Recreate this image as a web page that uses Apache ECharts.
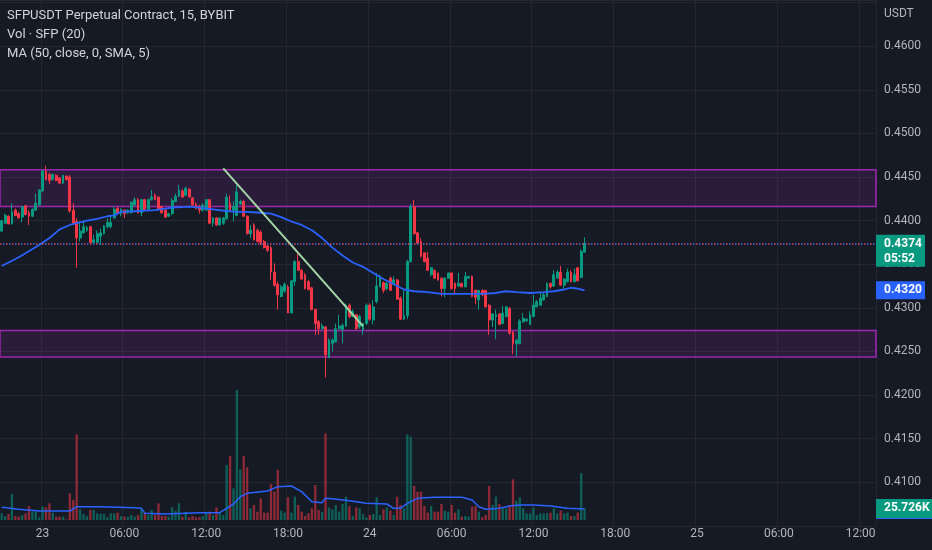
<!DOCTYPE html>
<html><head><meta charset="utf-8">
<script src="https://cdn.jsdelivr.net/npm/echarts@6/dist/echarts.min.js"></script>
<style>html,body{margin:0;padding:0;background:#161a25;}#c{width:932px;height:550px;}</style>
</head><body><div id="c"></div>
<script>
// ---- time slots (15-minute bars) ----
const startDay = 22, startMinute = 21 * 60, barMinutes = 15, slotCount = 257;
const tickLabels = ['23', '06:00', '12:00', '18:00', '24', '06:00', '12:00', '18:00', '25', '06:00', '12:00'];

// ---- OHLC (USDT) ----
const open = [0.4388,0.4397,0.4405,0.4396,0.4412,0.4408,0.4404,0.4417,0.4409,0.4405,0.4412,0.4418,0.4434,0.4457,0.4453,0.4447,0.4452,0.4449,0.4443,0.4451,
0.4450,0.4412,0.4399,0.4380,0.4386,0.4389,0.4393,0.4375,0.4375,0.4382,0.4385,0.4393,0.4393,0.4403,0.4414,0.4408,0.4412,0.4409,0.4409,0.4418,
0.4424,0.4409,0.4424,0.4413,0.4424,0.4429,0.4427,0.4416,0.4412,0.4405,0.4408,0.4422,0.4428,0.4434,0.4429,0.4436,0.4426,0.4419,0.4416,0.4412,
0.4412,0.4424,0.4397,0.4403,0.4395,0.4397,0.4402,0.4420,0.4412,0.4406,0.4419,0.4422,0.4405,0.4385,0.4395,0.4389,0.4387,0.4376,0.4371,0.4369,
0.4341,0.4327,0.4313,0.4319,0.4324,0.4294,0.4330,0.4353,0.4343,0.4338,0.4330,0.4323,0.4298,0.4284,0.4276,0.4278,0.4243,0.4259,0.4261,0.4276,
0.4275,0.4279,0.4303,0.4290,0.4292,0.4278,0.4275,0.4282,0.4303,0.4286,0.4307,0.4324,0.4329,0.4322,0.4334,0.4327,0.4332,0.4311,0.4287,0.4291,
0.4353,0.4416,0.4386,0.4376,0.4363,0.4357,0.4338,0.4343,0.4340,0.4334,0.4322,0.4334,0.4340,0.4328,0.4325,0.4328,0.4324,0.4334,0.4336,0.4320,
0.4309,0.4320,0.4320,0.4303,0.4286,0.4290,0.4293,0.4282,0.4290,0.4299,0.4272,0.4259,0.4259,0.4284,0.4285,0.4281,0.4290,0.4301,0.4303,0.4309,
0.4313,0.4328,0.4325,0.4334,0.4341,0.4326,0.4330,0.4341,0.4330,0.4346,0.4335,0.4364];
const close = [0.4400,0.4406,0.4396,0.4410,0.4406,0.4403,0.4416,0.4407,0.4405,0.4413,0.4420,0.4435,0.4457,0.4447,0.4446,0.4453,0.4446,0.4443,0.4452,0.4447,
0.4411,0.4397,0.4380,0.4388,0.4393,0.4392,0.4375,0.4378,0.4385,0.4386,0.4394,0.4398,0.4398,0.4413,0.4409,0.4413,0.4408,0.4412,0.4421,0.4424,
0.4409,0.4424,0.4412,0.4424,0.4427,0.4424,0.4413,0.4409,0.4404,0.4408,0.4423,0.4428,0.4435,0.4427,0.4437,0.4427,0.4418,0.4414,0.4412,0.4418,
0.4424,0.4397,0.4403,0.4395,0.4403,0.4403,0.4427,0.4412,0.4416,0.4433,0.4422,0.4405,0.4385,0.4389,0.4378,0.4376,0.4375,0.4369,0.4366,0.4341,
0.4326,0.4315,0.4324,0.4327,0.4294,0.4331,0.4353,0.4343,0.4333,0.4322,0.4321,0.4298,0.4282,0.4276,0.4279,0.4246,0.4263,0.4263,0.4276,0.4279,
0.4280,0.4303,0.4290,0.4296,0.4276,0.4290,0.4282,0.4303,0.4287,0.4301,0.4325,0.4336,0.4320,0.4328,0.4320,0.4332,0.4310,0.4287,0.4291,0.4353,
0.4416,0.4385,0.4374,0.4359,0.4353,0.4343,0.4346,0.4334,0.4332,0.4322,0.4334,0.4340,0.4322,0.4322,0.4328,0.4324,0.4336,0.4336,0.4313,0.4312,
0.4320,0.4315,0.4301,0.4286,0.4293,0.4292,0.4281,0.4294,0.4301,0.4271,0.4259,0.4263,0.4285,0.4288,0.4287,0.4292,0.4303,0.4307,0.4311,0.4315,
0.4328,0.4324,0.4338,0.4341,0.4326,0.4333,0.4341,0.4330,0.4338,0.4331,0.4365,0.4374];
const low = [0.4387,0.4396,0.4396,0.4396,0.4405,0.4403,0.4398,0.4406,0.4395,0.4404,0.4411,0.4417,0.4433,0.4446,0.4442,0.4446,0.4445,0.4442,0.4442,0.4446,
0.4409,0.4396,0.4346,0.4376,0.4385,0.4387,0.4374,0.4374,0.4374,0.4372,0.4384,0.4391,0.4391,0.4402,0.4408,0.4405,0.4403,0.4408,0.4408,0.4417,
0.4408,0.4405,0.4411,0.4412,0.4423,0.4424,0.4412,0.4408,0.4403,0.4404,0.4406,0.4421,0.4427,0.4426,0.4428,0.4427,0.4417,0.4413,0.4408,0.4410,
0.4411,0.4396,0.4393,0.4394,0.4394,0.4395,0.4401,0.4410,0.4399,0.4405,0.4418,0.4404,0.4384,0.4380,0.4377,0.4375,0.4372,0.4368,0.4364,0.4332,
0.4324,0.4298,0.4312,0.4317,0.4294,0.4294,0.4325,0.4343,0.4332,0.4321,0.4320,0.4297,0.4269,0.4269,0.4275,0.4220,0.4242,0.4250,0.4260,0.4275,
0.4259,0.4278,0.4288,0.4289,0.4275,0.4276,0.4269,0.4280,0.4285,0.4281,0.4305,0.4324,0.4317,0.4320,0.4320,0.4326,0.4309,0.4286,0.4286,0.4287,
0.4352,0.4384,0.4373,0.4358,0.4352,0.4343,0.4336,0.4333,0.4331,0.4313,0.4312,0.4333,0.4321,0.4315,0.4324,0.4324,0.4324,0.4333,0.4312,0.4304,
0.4298,0.4313,0.4301,0.4269,0.4278,0.4264,0.4280,0.4281,0.4289,0.4269,0.4247,0.4244,0.4258,0.4283,0.4284,0.4280,0.4289,0.4301,0.4302,0.4308,
0.4312,0.4322,0.4324,0.4333,0.4325,0.4322,0.4329,0.4329,0.4329,0.4330,0.4334,0.4363];
const high = [0.4401,0.4408,0.4406,0.4420,0.4414,0.4410,0.4417,0.4418,0.4412,0.4414,0.4431,0.4436,0.4458,0.4463,0.4455,0.4454,0.4453,0.4450,0.4452,0.4452,
0.4452,0.4420,0.4403,0.4399,0.4399,0.4394,0.4394,0.4384,0.4389,0.4391,0.4395,0.4403,0.4405,0.4416,0.4416,0.4414,0.4413,0.4413,0.4422,0.4427,
0.4426,0.4425,0.4425,0.4425,0.4435,0.4431,0.4428,0.4417,0.4413,0.4409,0.4426,0.4431,0.4441,0.4436,0.4439,0.4437,0.4427,0.4421,0.4418,0.4420,
0.4424,0.4424,0.4404,0.4404,0.4403,0.4404,0.4431,0.4429,0.4422,0.4441,0.4424,0.4424,0.4406,0.4395,0.4397,0.4391,0.4389,0.4378,0.4372,0.4371,
0.4351,0.4330,0.4326,0.4329,0.4326,0.4332,0.4355,0.4362,0.4345,0.4340,0.4332,0.4324,0.4299,0.4286,0.4282,0.4279,0.4265,0.4265,0.4282,0.4292,
0.4282,0.4305,0.4305,0.4298,0.4293,0.4292,0.4283,0.4305,0.4305,0.4309,0.4340,0.4338,0.4330,0.4330,0.4336,0.4336,0.4333,0.4313,0.4320,0.4355,
0.4419,0.4424,0.4387,0.4380,0.4363,0.4364,0.4347,0.4344,0.4340,0.4335,0.4335,0.4340,0.4340,0.4329,0.4340,0.4329,0.4341,0.4337,0.4337,0.4321,
0.4320,0.4321,0.4320,0.4304,0.4294,0.4298,0.4294,0.4302,0.4302,0.4301,0.4273,0.4264,0.4287,0.4294,0.4288,0.4296,0.4315,0.4309,0.4317,0.4317,
0.4329,0.4329,0.4343,0.4343,0.4348,0.4334,0.4345,0.4343,0.4345,0.4347,0.4367,0.4381];

// ---- volume (thousands of SFP) ----
const volumeK = [14.9,8.9,13.4,58.2,8.9,7.5,11.2,14.9,31.3,18.6,18.6,6.0,29.8,28.3,37.3,16.4,7.5,7.5,7.5,1.5,
59.7,44.7,191.6,23.9,13.4,8.9,22.4,22.4,14.9,13.4,13.4,6.0,14.9,14.9,16.4,8.9,7.5,7.5,11.2,7.5,
11.2,26.1,14.9,11.2,22.4,11.2,37.3,8.9,8.9,7.5,28.3,20.9,37.3,7.5,18.6,6.0,8.9,6.0,6.0,8.9,
18.6,18.6,11.2,28.3,14.9,11.2,123.0,143.2,70.8,290.8,113.3,143.2,117.8,26.1,33.6,18.6,48.5,16.4,16.4,80.5,
63.4,111.9,20.9,16.4,50.7,16.4,52.2,33.6,18.6,8.9,14.9,26.1,78.3,22.4,18.6,193.9,28.3,23.9,33.6,18.6,
35.8,52.2,31.3,8.9,28.3,26.1,13.4,6.0,11.2,13.4,50.7,11.2,23.9,28.3,20.9,11.2,52.2,33.6,26.1,191.6,
186.4,76.1,63.4,63.4,31.3,16.4,31.3,18.6,18.6,35.8,20.9,18.6,33.6,16.4,23.9,7.5,8.9,7.5,29.8,31.3,
18.6,6.0,11.2,76.1,33.6,52.2,35.8,26.1,26.1,33.6,91.0,43.3,50.7,26.1,14.9,14.9,28.3,11.2,14.9,14.9,
14.9,16.4,26.1,14.9,20.9,14.9,16.4,8.9,8.9,16.4,104.4,25.726];

// ---- MA(50) on close ----
const maIdx = [0,5,11,14,17,20,23,25,28,31,33,35,40,45,50,55,58,62,66,69,72,76,79,82,85,88,91,94,97,100,103,106,109,112,115,118,121,125,129,133,137,141,145,148,151,155,159,162,165,167,169,171];
const maVal = [0.4348,0.4358,0.4372,0.4380,0.4390,0.4395,0.4398,0.4400,0.4402,0.4405,0.4406,0.4410,0.4411,0.4412,0.4415,0.4416,0.4415,0.4413,0.4411,0.4410,0.4410,0.4409,0.4408,0.4404,0.4399,0.4395,0.4389,0.4380,0.4369,0.4360,0.4352,0.4347,0.4340,0.4333,0.4327,0.4321,0.4319,0.4318,0.4316,0.4316,0.4316,0.4316,0.4317,0.4319,0.4318,0.4317,0.4318,0.4319,0.4321,0.4323,0.4322,0.4320];

// ---- Volume MA(20) ----
const vmaIdx = [0,5,11,20,22,29,39,41,42,48,58,64,66,68,70,72,78,81,85,88,91,94,95,97,102,107,113,115,117,119,122,127,135,138,140,142,146,149,152,156,161,166,171];
const vmaVal = [28.3,23.9,20.1,20.1,29.8,29.8,27.6,26.1,14.9,13.4,16.4,16.4,26.1,35.8,52.2,59.7,64.9,74.6,76.1,63.4,41.0,38.8,48.5,47.7,43.3,37.3,35.8,26.1,26.1,37.3,48.5,50.7,50.7,44.7,29.8,23.9,26.1,31.3,33.6,33.6,31.3,26.1,24.6];

// ---- drawings ----
const upperZone = [0.44583, 0.44161];
const lowerZone = [0.42740, 0.42435];
const trendIdx = [65, 106];
const trendPrice = [0.4460, 0.4279];
const levelPrice = 0.4374;
const countdown = '05:52';

// ---- build categories ----
const cats = [], tickSet = new Set(), tickText = new Map();
let tk = 0;
for (let i = 0; i < slotCount; i++) {
  const m = startMinute + i * barMinutes;
  const day = startDay + Math.floor(m / 1440);
  const mm = m % 1440;
  const hh = String(Math.floor(mm / 60)).padStart(2, '0');
  const mi = String(mm % 60).padStart(2, '0');
  cats.push(day + ' ' + hh + ':' + mi);
  if (mm % 360 === 0) { tickSet.add(i); tickText.set(i, tickLabels[tk++]); }
}

const upColor = '#089981', downColor = '#f23645', maColor = '#2962ff';
const upVol = 'rgba(8,153,129,0.55)', downVol = 'rgba(242,54,69,0.55)';
const gridColor = '#242733';
const axisText = '#b2b5be';
const FONT = 'Roboto, sans-serif';
const GRID_RIGHT = 56, CHART_W = 932;

const candleData = open.map((o, i) => [o, close[i], low[i], high[i]]);
const volData = volumeK.map((v, i) => ({ value: v, itemStyle: { color: close[i] >= open[i] ? upVol : downVol } }));
const maData = maIdx.map((x, k) => [x, maVal[k]]);
const vmaData = vmaIdx.map((x, k) => [x, vmaVal[k]]);
const trendData = trendIdx.map((x, k) => [x, trendPrice[k]]);
const lastVol = volumeK[volumeK.length - 1];
const lastVma = vmaVal[vmaVal.length - 1];
const lastMa = maVal[maVal.length - 1];

const chart = echarts.init(document.getElementById('c'), null, { renderer: 'canvas' });
chart.setOption({
  backgroundColor: '#161a25',
  animation: false,
  textStyle: { fontFamily: FONT },
  grid: [
    { left: 0, right: GRID_RIGHT, top: 0, bottom: 24.2 },
    { left: 0, right: GRID_RIGHT, top: 330, bottom: 30 }
  ],
  xAxis: [
    { type: 'category', gridIndex: 0, data: cats, boundaryGap: true,
      axisLine: { show: false }, axisTick: { show: false }, axisLabel: { show: false },
      splitLine: { show: true, interval: (i) => tickSet.has(i), lineStyle: { color: gridColor, width: 1 } } },
    { type: 'category', gridIndex: 1, data: cats, boundaryGap: true,
      axisLine: { show: false }, axisTick: { show: false }, splitLine: { show: false },
      axisLabel: { show: true, interval: (i) => tickSet.has(i), formatter: (v, i) => tickText.get(i) || '',
        color: axisText, fontSize: 12, margin: 8, fontFamily: FONT } }
  ],
  yAxis: [
    { type: 'value', gridIndex: 0, position: 'right', min: 0.405, max: 0.4653, interval: 0.005,
      axisLine: { show: false }, axisTick: { show: false },
      axisLabel: { color: axisText, fontSize: 12, margin: 8, fontFamily: FONT,
        formatter: (v) => (v > 0.4625 || v < 0.4075) ? '' : v.toFixed(4) },
      splitLine: { show: true, lineStyle: { color: gridColor, width: 1 } } },
    { type: 'value', gridIndex: 1, min: 0, max: 425, show: false }
  ],
  series: [
    { type: 'candlestick', name: 'SFPUSDT', xAxisIndex: 0, yAxisIndex: 0, data: candleData, barWidth: '68%', clip: false,
      itemStyle: { color: upColor, color0: downColor, borderColor: upColor, borderColor0: downColor, borderWidth: 1 },
      markArea: { silent: true, itemStyle: { color: 'rgba(156,39,176,0.17)', borderColor: '#9c27b0', borderWidth: 1.5 },
        data: [[{ yAxis: upperZone[0] }, { yAxis: upperZone[1] }], [{ yAxis: lowerZone[0] }, { yAxis: lowerZone[1] }]] },
      markLine: { silent: true, symbol: ['none', 'none'], animation: false, precision: 6, label: { show: false },
        data: [
          { yAxis: levelPrice, lineStyle: { color: '#e04a62', type: [1.5, 4.5], width: 1.5 } },
          { yAxis: levelPrice, lineStyle: { color: '#4a6cf0', type: [1.5, 4.5], dashOffset: 3, width: 1.5 } }
        ] } },
    { type: 'line', name: 'MA', xAxisIndex: 0, yAxisIndex: 0, data: maData, showSymbol: false, clip: false, z: 3,
      lineStyle: { color: maColor, width: 1.8 } },
    { type: 'line', name: 'Trend', xAxisIndex: 0, yAxisIndex: 0, data: trendData, showSymbol: false, z: 4,
      lineStyle: { color: '#a5d6a7', width: 2 } },
    { type: 'bar', name: 'Vol', xAxisIndex: 1, yAxisIndex: 1, data: volData, barWidth: '68%', clip: false },
    { type: 'line', name: 'Vol MA', xAxisIndex: 1, yAxisIndex: 1, data: vmaData, showSymbol: false, clip: false, z: 3,
      lineStyle: { color: maColor, width: 1.5 } }
  ]
});

// ---- legend texts and axis price tags, placed through the chart's own scales ----
const xEdge = CHART_W - GRID_RIGHT;
const yLevel = chart.convertToPixel({ yAxisIndex: 0 }, levelPrice);
const yMa = chart.convertToPixel({ yAxisIndex: 0 }, lastMa);
const yVol = chart.convertToPixel({ yAxisIndex: 1 }, lastVol);
const yVma = chart.convertToPixel({ yAxisIndex: 1 }, lastVma);
const tagFont = 'bold 12px ' + FONT;
const legendFont = '13px ' + FONT;
function tagText(x, y, text) {
  return { type: 'text', x: x, y: y, z: 101, silent: true,
    style: { text: text, fill: '#ffffff', font: tagFont, align: 'left', verticalAlign: 'middle' } };
}
chart.setOption({
  graphic: [
    { type: 'text', left: 7, top: 9, style: { text: 'SFPUSDT Perpetual Contract, 15, BYBIT', fill: '#d1d4dc', font: legendFont } },
    { type: 'text', left: 7, top: 28.5, style: { text: 'Vol · SFP (20)', fill: '#d1d4dc', font: legendFont } },
    { type: 'text', left: 7, top: 47.5, style: { text: 'MA (50, close, 0, SMA, 5)', fill: '#d1d4dc', font: legendFont } },
    { type: 'text', left: 884, top: 8, style: { text: 'USDT', fill: axisText, font: '12px ' + FONT } },
    { type: 'rect', z: 100, silent: true, shape: { x: xEdge, y: yLevel - 8.5, width: 49, height: 32 }, style: { fill: upColor } },
    tagText(xEdge + 8, yLevel + 0.5, levelPrice.toFixed(4)),
    tagText(xEdge + 8, yLevel + 16, countdown),
    { type: 'rect', z: 100, silent: true, shape: { x: xEdge, y: yMa - 9, width: 49, height: 18 }, style: { fill: maColor } },
    tagText(xEdge + 8, yMa, lastMa.toFixed(4)),
    { type: 'rect', z: 99, silent: true, shape: { x: xEdge, y: yVma - 9, width: 56, height: 19 }, style: { fill: maColor } },
    { type: 'rect', z: 100, silent: true, shape: { x: xEdge, y: yVol - 9.5, width: 56, height: 19 }, style: { fill: upColor } },
    tagText(xEdge + 8, yVol, lastVol.toFixed(3) + 'K')
  ]
});
</script></body></html>
